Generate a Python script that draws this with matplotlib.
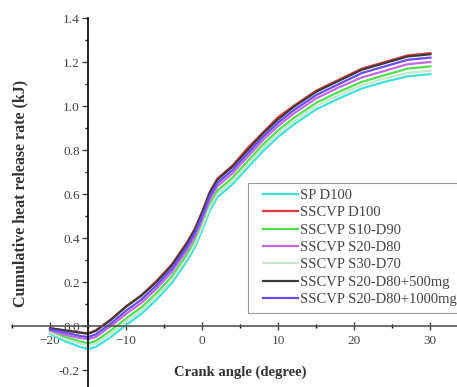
import matplotlib
matplotlib.use("Agg")
import matplotlib.pyplot as plt
from matplotlib.ticker import MultipleLocator
from matplotlib.patches import Rectangle

plt.rcParams['font.family'] = ['Liberation Serif', 'DejaVu Serif']

crank = [-20, -18, -16, -15, -14, -12, -10, -8, -6, -4, -2, -1, 0, 1, 2, 4, 6, 8, 10, 12, 15, 18, 21, 24, 27, 30]

sp_d100 = [-0.035, -0.07, -0.095, -0.105, -0.095, -0.05, 0.005, 0.055, 0.12, 0.195, 0.295, 0.355, 0.435, 0.525, 0.585, 0.645, 0.72, 0.795, 0.86, 0.915, 0.985, 1.035, 1.08, 1.11, 1.135, 1.145]
sscvp_d100 = [-0.01, -0.02, -0.03, -0.033, -0.02, 0.03, 0.09, 0.14, 0.205, 0.28, 0.38, 0.44, 0.52, 0.61, 0.67, 0.73, 0.81, 0.88, 0.95, 1.00, 1.07, 1.12, 1.17, 1.20, 1.23, 1.24]
sscvp_s10_d90 = [-0.025, -0.05, -0.07, -0.078, -0.068, -0.02, 0.035, 0.085, 0.15, 0.225, 0.325, 0.385, 0.465, 0.555, 0.615, 0.675, 0.75, 0.825, 0.89, 0.945, 1.015, 1.065, 1.11, 1.14, 1.17, 1.18]
sscvp_s20_d80 = [-0.02, -0.04, -0.055, -0.06, -0.05, 0.0, 0.055, 0.105, 0.17, 0.245, 0.345, 0.405, 0.485, 0.575, 0.635, 0.695, 0.77, 0.845, 0.91, 0.965, 1.035, 1.085, 1.13, 1.16, 1.19, 1.20]
sscvp_s30_d70 = [-0.03, -0.06, -0.08, -0.09, -0.08, -0.035, 0.02, 0.07, 0.135, 0.21, 0.31, 0.37, 0.45, 0.54, 0.60, 0.66, 0.735, 0.81, 0.875, 0.93, 1.0, 1.05, 1.095, 1.125, 1.15, 1.16]
sscvp_500 = [-0.01, -0.02, -0.03, -0.035, -0.022, 0.028, 0.088, 0.138, 0.2, 0.275, 0.375, 0.435, 0.515, 0.605, 0.665, 0.725, 0.80, 0.875, 0.94, 0.995, 1.065, 1.115, 1.165, 1.195, 1.225, 1.235]
sscvp_1000 = [-0.015, -0.03, -0.045, -0.05, -0.038, 0.012, 0.07, 0.12, 0.185, 0.26, 0.36, 0.42, 0.50, 0.59, 0.65, 0.71, 0.785, 0.86, 0.925, 0.98, 1.05, 1.10, 1.15, 1.18, 1.21, 1.22]

labels = ["SP D100", "SSCVP D100", "SSCVP S10-D90", "SSCVP S20-D80", "SSCVP S30-D70",
          "SSCVP S20-D80+500mg", "SSCVP S20-D80+1000mg"]
series = [sp_d100, sscvp_d100, sscvp_s10_d90, sscvp_s20_d80, sscvp_s30_d70, sscvp_500, sscvp_1000]
colors = ["#3fe0dc", "#e03a3a", "#4fe04f", "#c468e0", "#c9e6c9", "#3c3c3c", "#6a4cf5"]

W, H = 457, 387
fig = plt.figure(figsize=(W/100, H/100), dpi=100)
ax = fig.add_axes([12/W, 0, 445/W, 1 - 18/H])
ax.set_xlim(-25, 33.5)
ax.set_ylim(-0.277, 1.40)

for y, c, l in zip(series, colors, labels):
    ax.plot(crank, y, color=c, lw=1.6, label=l)

for s in ['top', 'right']:
    ax.spines[s].set_visible(False)
ax.spines['left'].set_position(('data', -15))
ax.spines['bottom'].set_position(('data', 0))
ax.spines['left'].set_linewidth(1.2)
ax.spines['bottom'].set_linewidth(1.2)
ax.spines['bottom'].set_color('#555555')

ax.xaxis.set_major_locator(MultipleLocator(10))
ax.xaxis.set_minor_locator(MultipleLocator(5))
ax.yaxis.set_minor_locator(MultipleLocator(0.1))
ax.set_yticks([-0.2, 0.0, 0.2, 0.4, 0.6, 0.8, 1.0, 1.2, 1.4])
ax.set_yticklabels(["-0.2", "0.0", "0.2", "0.4", "0.6", "0.8", "1.0", "1.2", "1.4"])
ax.tick_params(axis='x', which='major', direction='inout', length=6, width=1, labelsize=9.5, colors='#444444')
ax.tick_params(axis='x', which='minor', direction='inout', length=3, width=1)
ax.tick_params(axis='y', which='major', direction='out', length=4, width=1, labelsize=9.5, colors='#444444', pad=2)
ax.tick_params(axis='y', which='minor', direction='out', length=2.5, width=1)
ax.patch.set_alpha(0)

# legend frame (extends past the right edge, as in the reference)
frame = Rectangle((248/W, 1 - 313/H), 230/W, 130/H, transform=fig.transFigure,
                  facecolor='white', edgecolor='#999999', lw=0.8, zorder=3, clip_on=False)
ax.add_artist(frame)
leg = ax.legend(loc='upper left', bbox_to_anchor=(263/W, 1 - 189/H),
                bbox_transform=fig.transFigure, fontsize=10.5, frameon=False,
                handlelength=2.4, handletextpad=0.15, labelspacing=0.28,
                borderaxespad=0, borderpad=0)
leg.set_zorder(5)
for t in leg.get_texts():
    t.set_color('#444444')

fig.text(20/W, 1 - 193/H, "Cumulative heat release rate (kJ)", rotation=90,
         ha='center', va='center', fontsize=11.5, fontweight='bold', color='#333333')
fig.text(240/W, 1 - 372/H, "Crank angle (degree)", ha='center', va='center',
         fontsize=10.5, fontweight='bold', color='#333333')

fig.savefig("out.png", dpi=100)
